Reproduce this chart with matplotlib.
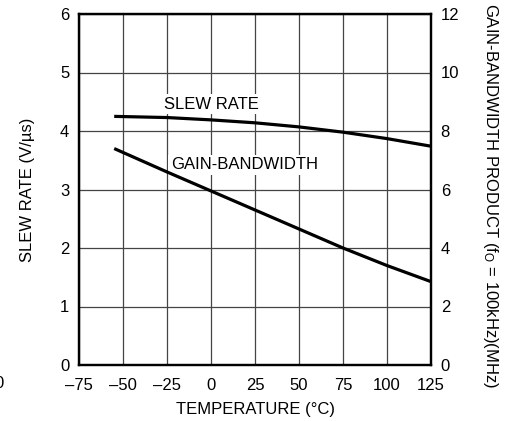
import matplotlib.pyplot as plt

plt.rcParams["font.family"] = ["Liberation Sans Narrow", "Liberation Sans", "DejaVu Sans"]

temp = [-55, -25, 0, 25, 50, 75, 100, 125]
slew_rate = [4.25, 4.23, 4.19, 4.14, 4.07, 3.98, 3.87, 3.74]
gbw = [7.4, 6.6, 5.95, 5.3, 4.65, 4.0, 3.4, 2.85]

x_ticks = [-75, -50, -25, 0, 25, 50, 75, 100, 125]
x_labels = ["\u201375", "\u201350", "\u201325", "0", "25", "50", "75", "100", "125"]
left_ticks = [0, 1, 2, 3, 4, 5, 6]
right_ticks = [0, 2, 4, 6, 8, 10, 12]

fig = plt.figure(figsize=(5.12, 4.21), dpi=100)
ax = fig.add_axes([79 / 512, 1 - 365 / 421, 352 / 512, 351 / 421])
ax2 = ax.twinx()

ax.set_xlim(-75, 125)
ax.set_ylim(0, 6)
ax2.set_ylim(0, 12)

ax.set_xticks(x_ticks, x_labels)
ax.set_yticks(left_ticks)
ax2.set_yticks(right_ticks)
ax.grid(True, color="#444444", linewidth=0.9)
ax.set_axisbelow(True)

for a in (ax, ax2):
    a.tick_params(length=0, labelsize=12, pad=7)
    for s in a.spines.values():
        s.set_linewidth(1.6)
        s.set_color("black")
ax.tick_params(axis="x", pad=9)

ax.plot(temp, slew_rate, color="black", linewidth=2.3, solid_capstyle="butt", zorder=3)
ax2.plot(temp, gbw, color="black", linewidth=2.3, solid_capstyle="butt", zorder=3)

box = dict(facecolor="white", edgecolor="none", pad=2)
ax.text(0, 4.46, "SLEW RATE", ha="center", va="center", fontsize=12, bbox=box, zorder=2)
ax.text(19, 3.42, "GAIN-BANDWIDTH", ha="center", va="center", fontsize=12, bbox=box, zorder=2)

ax.set_xlabel("TEMPERATURE (\u00b0C)", fontsize=12, labelpad=7)
ax.set_ylabel("SLEW RATE (V/\u00b5s)", fontsize=12, labelpad=18)
ax2.set_ylabel("GAIN-BANDWIDTH PRODUCT (f$\\mathregular{_O}$ = 100kHz)(MHz)",
               fontsize=12, rotation=-90, va="bottom")
ax2.yaxis.set_label_coords(1.142, 0.484)

fig.text(4 / 512, 1 - 384 / 421, "0", ha="right", va="center", fontsize=12)

fig.savefig("out.png", dpi=100)
